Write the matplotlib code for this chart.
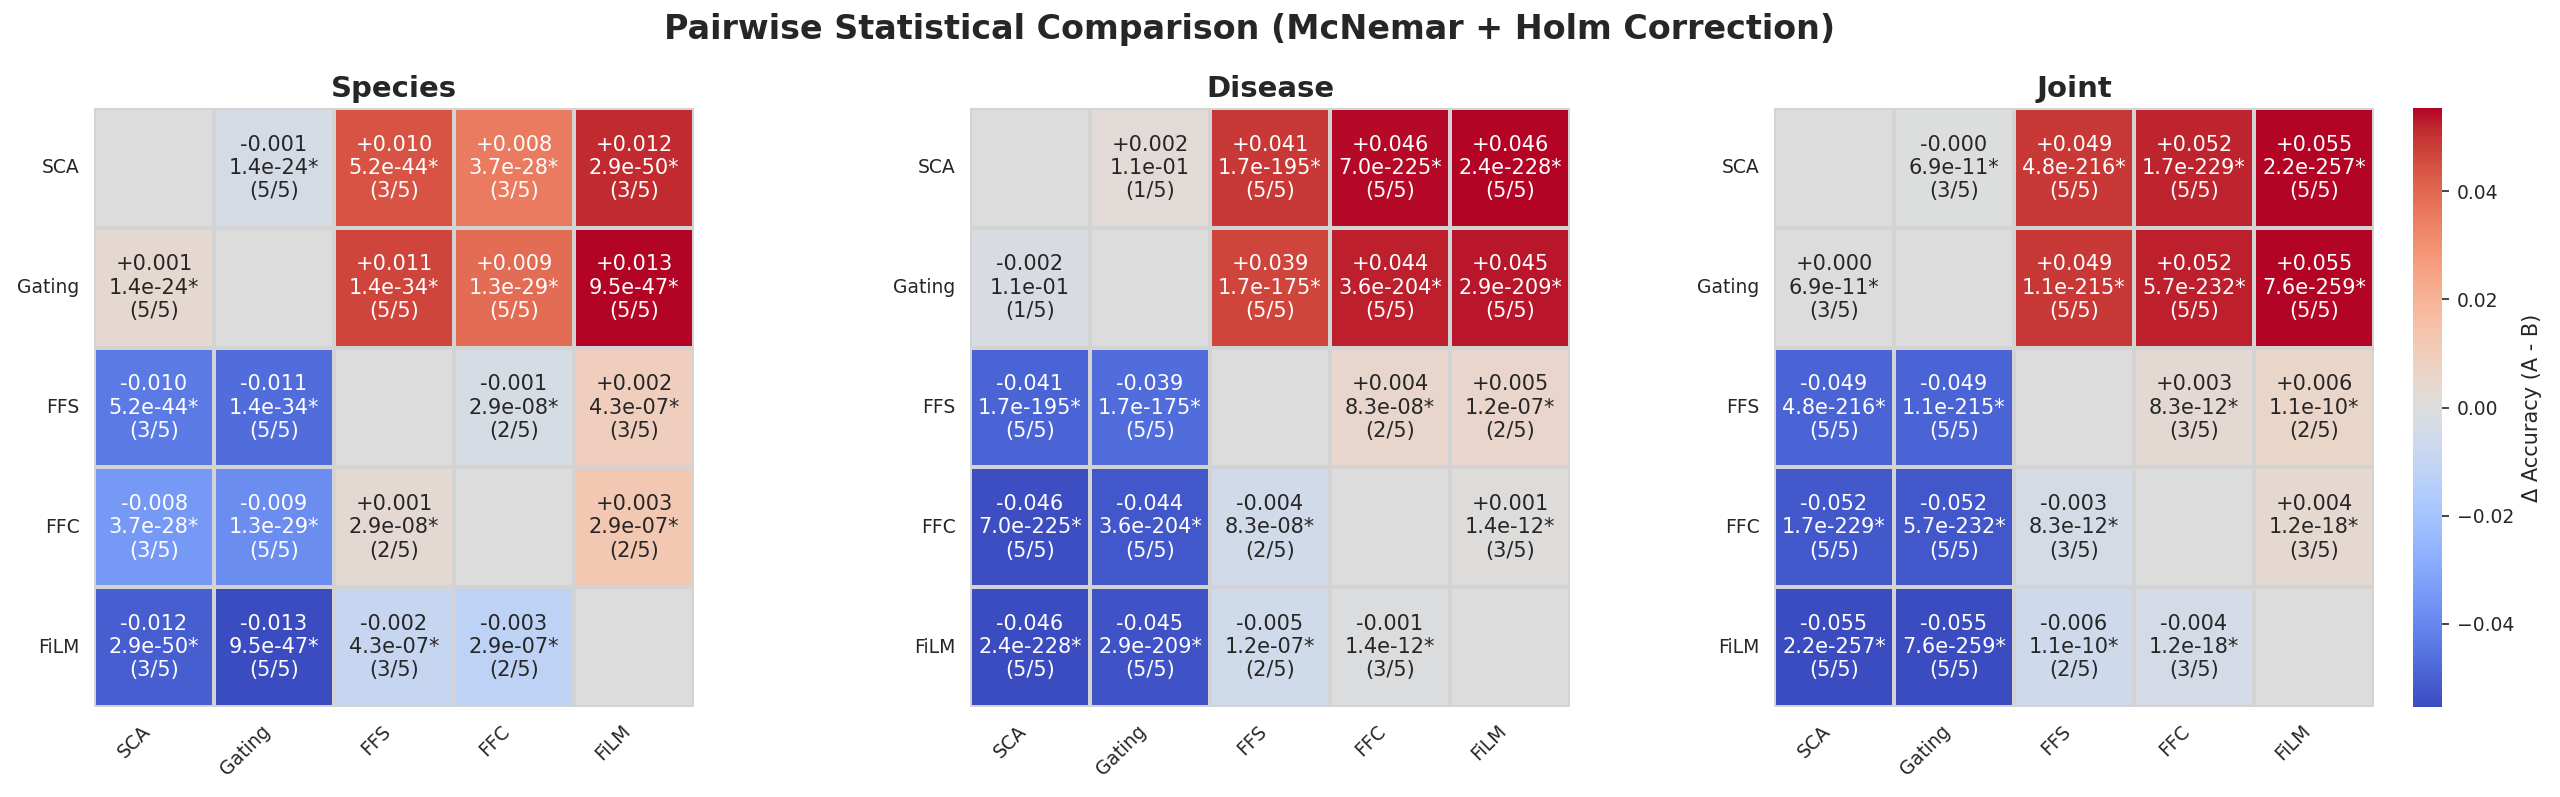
import numpy as np
import matplotlib
matplotlib.use("Agg")
import matplotlib.pyplot as plt
import seaborn as sns

sns.set_theme(style="white")
plt.rcParams["font.family"] = ["DejaVu Sans"]

models = ["SCA", "Gating", "FFS", "FFC", "FiLM"]
tasks = ["Species", "Disease", "Joint"]

# upper-triangle pairs, row model minus column model:
# SCA-Gating, SCA-FFS, SCA-FFC, SCA-FiLM, Gating-FFS, Gating-FFC, Gating-FiLM, FFS-FFC, FFS-FiLM, FFC-FiLM
species_delta = [-0.0008, 0.0101, 0.0081, 0.0118, 0.0109, 0.0089, 0.0128, -0.0007, 0.0021, 0.0028]
species_p = [1.4e-24, 5.2e-44, 3.7e-28, 2.9e-50, 1.4e-34, 1.3e-29, 9.5e-47, 2.9e-08, 4.3e-07, 2.9e-07]
species_folds = [5, 3, 3, 3, 5, 5, 5, 2, 3, 2]

disease_delta = [0.0018, 0.0412, 0.0458, 0.0463, 0.0394, 0.0441, 0.0447, 0.0041, 0.0047, 0.0006]
disease_p = [1.1e-01, 1.7e-195, 7.0e-225, 2.4e-228, 1.7e-175, 3.6e-204, 2.9e-209, 8.3e-08, 1.2e-07, 1.4e-12]
disease_folds = [1, 5, 5, 5, 5, 5, 5, 2, 2, 3]

joint_delta = [-0.0003, 0.0490, 0.0521, 0.0553, 0.0493, 0.0524, 0.0554, 0.0031, 0.0058, 0.0036]
joint_p = [6.9e-11, 4.8e-216, 1.7e-229, 2.2e-257, 1.1e-215, 5.7e-232, 7.6e-259, 8.3e-12, 1.1e-10, 1.2e-18]
joint_folds = [3, 5, 5, 5, 5, 5, 5, 3, 2, 3]

n_folds = 5


def build(delta, pvals, folds):
    n = len(models)
    mat = np.zeros((n, n))
    labels = np.full((n, n), "", dtype=object)
    k = 0
    for i in range(n):
        for j in range(i + 1, n):
            star = "*" if pvals[k] < 0.05 else ""
            for a, b, sign in [(i, j, 1), (j, i, -1)]:
                d = sign * delta[k]
                mat[a, b] = d
                labels[a, b] = f"{d:+.3f}\n{pvals[k]:.1e}{star}\n({folds[k]}/{n_folds})"
            k += 1
    return mat, labels


data = [build(species_delta, species_p, species_folds),
        build(disease_delta, disease_p, disease_folds),
        build(joint_delta, joint_p, joint_folds)]

W, H = 2560, 797
fig = plt.figure(figsize=(W / 150, H / 150), dpi=150)
lefts = [94, 970, 1774]
axes = [fig.add_axes([l / W, 1 - 707 / H, 600 / W, 599 / H]) for l in lefts]
cax = fig.add_axes([2413 / W, 1 - 707 / H, 29 / W, 599 / H])

for idx, (ax, title, (mat, labels)) in enumerate(zip(axes, tasks, data)):
    last = idx == len(tasks) - 1
    sns.heatmap(mat, ax=ax, cmap="coolwarm", center=0, annot=labels, fmt="",
                annot_kws={"size": 10}, linewidths=1, linecolor="lightgray",
                xticklabels=models, yticklabels=models,
                cbar=last, cbar_ax=cax if last else None,
                cbar_kws={"label": "Δ Accuracy (A - B)"} if last else None)
    ax.set_title(title, fontsize=14, fontweight="bold", pad=5.3)
    ax.set_xticklabels(models, rotation=45, ha="right", fontsize=9)
    ax.set_yticklabels(models, rotation=0, fontsize=9)
    ax.tick_params(length=0, pad=7)

cax.tick_params(labelsize=9, length=3.5, width=0.8)
cax.yaxis.label.set_size(10)

fig.text(0.488, 1 - 39 / H, "Pairwise Statistical Comparison (McNemar + Holm Correction)",
         ha="center", va="baseline", fontsize=16, fontweight="bold")

fig.savefig("out.png", dpi=150)
